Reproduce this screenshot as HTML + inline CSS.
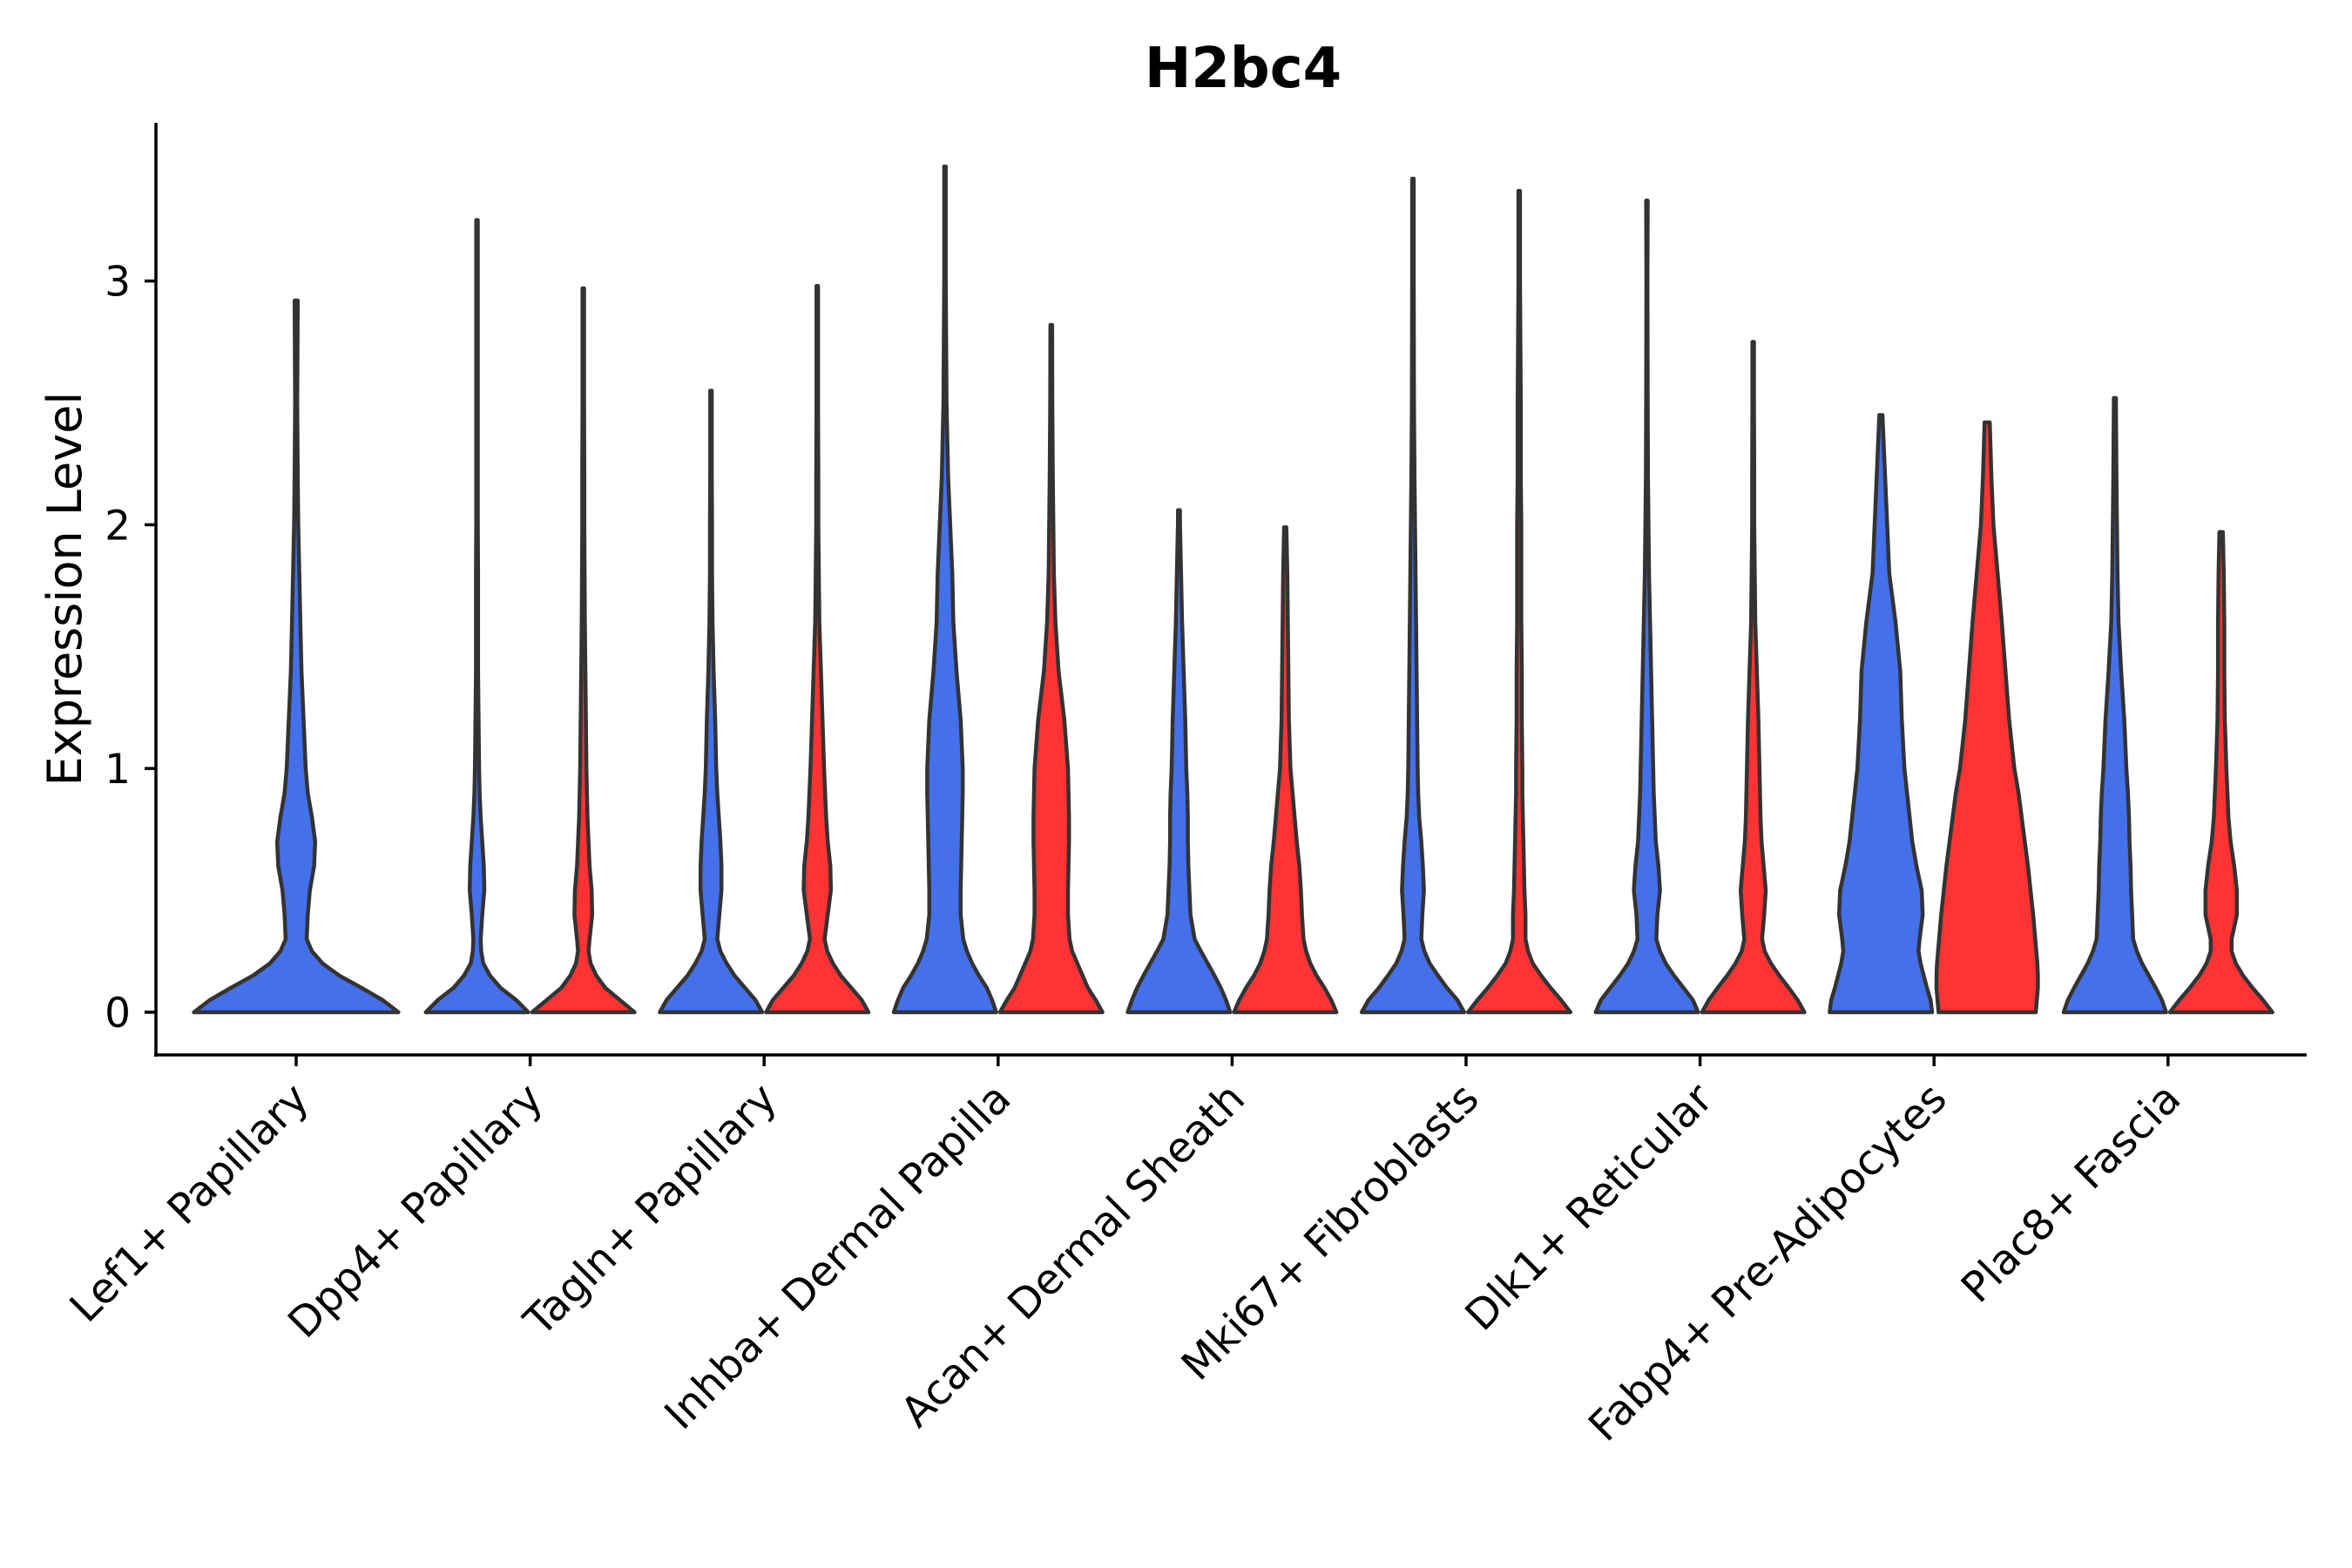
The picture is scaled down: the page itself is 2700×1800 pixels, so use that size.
<!DOCTYPE html>
<html><head><meta charset="utf-8"><style>
html,body{margin:0;padding:0;background:#fff}
svg{display:block}
text{font-family:"DejaVu Sans","Liberation Sans",sans-serif}
</style></head><body>
<svg id="chart" width="2700" height="1800" viewBox="0 0 2700 1800" xmlns="http://www.w3.org/2000/svg">
<rect width="2700" height="1800" fill="#fff"/>
<text x="1427" y="100" text-anchor="middle" font-size="64" font-weight="bold" fill="#000">H2bc4</text>
<text transform="translate(93,676) rotate(-90)" text-anchor="middle" font-size="54" fill="#000">Expression Level</text>
<g id="violins"></g>
<g id="axes"></g>
</svg>
<script>
const categories = ["Lef1+ Papillary","Dpp4+ Papillary","Tagln+ Papillary","Inhba+ Dermal Papilla","Acan+ Dermal Sheath","Mki67+ Fibroblasts","Dlk1+ Reticular","Fabp4+ Pre-Adipocytes","Plac8+ Fascia"];
const yTicks = [0,1,2,3];
const levels = [0,0.05,0.1,0.15,0.2,0.25,0.3,0.4,0.5,0.6,0.7,0.8,0.9,1.0,1.2,1.4,1.6,1.8,2.0,2.2,2.5,3.0,3.5];
const blueMax = [2.92,3.25,2.55,3.47,2.06,3.42,3.33,2.45,2.52];
const redMax = [null,2.97,2.98,2.82,1.99,3.37,2.75,2.42,1.97];
const blueWidths = [
 [0.97,0.82,0.62,0.41,0.25,0.15,0.10,0.11,0.13,0.17,0.18,0.15,0.11,0.09,0.07,0.05,0.04,0.03,0.02,0.015,0.01,0.01,0.01],
 [0.98,0.75,0.45,0.25,0.12,0.08,0.07,0.10,0.14,0.13,0.10,0.07,0.05,0.04,0.03,0.02,0.02,0.02,0.015,0.015,0.015,0.015,0.015],
 [0.98,0.85,0.65,0.45,0.30,0.18,0.12,0.16,0.20,0.20,0.18,0.15,0.12,0.10,0.08,0.05,0.03,0.02,0.02,0.015,0.015,0.015,0.015],
 [0.98,0.90,0.80,0.65,0.52,0.42,0.35,0.30,0.30,0.31,0.32,0.33,0.34,0.34,0.30,0.22,0.16,0.14,0.10,0.06,0.03,0.015,0.015],
 [0.98,0.90,0.80,0.68,0.55,0.42,0.30,0.22,0.20,0.18,0.17,0.17,0.16,0.14,0.12,0.09,0.06,0.04,0.02,0.015,0.015,0.015,0.015],
 [0.98,0.85,0.65,0.48,0.32,0.22,0.16,0.18,0.21,0.19,0.16,0.12,0.10,0.09,0.08,0.07,0.06,0.05,0.04,0.03,0.02,0.015,0.015],
 [0.98,0.88,0.70,0.52,0.36,0.25,0.18,0.20,0.25,0.22,0.17,0.15,0.13,0.12,0.10,0.08,0.06,0.04,0.03,0.02,0.015,0.01,0.01],
 [0.98,0.95,0.88,0.82,0.76,0.72,0.74,0.80,0.78,0.68,0.60,0.55,0.50,0.45,0.40,0.37,0.28,0.16,0.12,0.08,0.02,0.02,0.02],
 [0.98,0.90,0.78,0.65,0.52,0.42,0.35,0.33,0.31,0.30,0.28,0.27,0.25,0.22,0.18,0.12,0.07,0.05,0.04,0.03,0.02,0.02,0.02]
];
const redWidths = [
 null,
 [0.98,0.70,0.42,0.25,0.14,0.10,0.12,0.17,0.16,0.12,0.10,0.08,0.07,0.06,0.05,0.04,0.03,0.025,0.02,0.02,0.015,0.015,0.015],
 [0.98,0.85,0.65,0.45,0.30,0.19,0.14,0.20,0.26,0.25,0.20,0.17,0.15,0.13,0.10,0.07,0.04,0.03,0.02,0.02,0.015,0.015,0.015],
 [0.98,0.85,0.70,0.60,0.50,0.40,0.35,0.32,0.32,0.33,0.34,0.34,0.33,0.32,0.25,0.14,0.08,0.05,0.04,0.03,0.02,0.015,0.015],
 [0.98,0.88,0.75,0.60,0.48,0.40,0.35,0.32,0.30,0.27,0.22,0.18,0.14,0.10,0.07,0.06,0.05,0.04,0.02,0.02,0.02,0.02,0.02],
 [0.98,0.80,0.60,0.42,0.26,0.17,0.12,0.12,0.10,0.09,0.08,0.07,0.06,0.06,0.05,0.05,0.04,0.04,0.04,0.03,0.03,0.015,0.015],
 [0.98,0.85,0.68,0.50,0.34,0.22,0.17,0.21,0.24,0.20,0.16,0.14,0.13,0.12,0.10,0.07,0.04,0.03,0.02,0.02,0.015,0.015,0.015],
 [0.93,0.95,0.97,0.97,0.96,0.94,0.92,0.88,0.83,0.78,0.72,0.66,0.60,0.52,0.42,0.35,0.28,0.20,0.12,0.08,0.04,0.04,0.04],
 [0.98,0.80,0.60,0.42,0.28,0.20,0.20,0.30,0.30,0.25,0.18,0.14,0.12,0.10,0.07,0.06,0.06,0.05,0.03,0.03,0.03,0.03,0.03]
];

const NS = "http://www.w3.org/2000/svg";
const X0 = 340, DX = 268.6, Y0 = 1162, PY = 279.8;
const xScale = i => X0 + DX * i;
const yScale = v => Y0 - PY * v;

function profile(ws, max){
  const pts = [];
  for (let k = 0; k < levels.length; k++){
    if (levels[k] < max) pts.push([levels[k], ws[k]]);
    else {
      const k0 = k - 1;
      const t = (max - levels[k0]) / (levels[k] - levels[k0]);
      pts.push([max, Math.max(0.015, ws[k0] + (ws[k] - ws[k0]) * t)]);
      break;
    }
  }
  return pts;
}
function violinPath(cx, half, ws, max){
  const pts = profile(ws, max);
  let d = "";
  pts.forEach((p, i) => { d += (i ? "L" : "M") + (cx - p[1]*half).toFixed(1) + "," + yScale(p[0]).toFixed(1); });
  for (let i = pts.length - 1; i >= 0; i--) d += "L" + (cx + pts[i][1]*half).toFixed(1) + "," + yScale(pts[i][0]).toFixed(1);
  return d + "Z";
}
const vg = document.getElementById("violins");
categories.forEach((c, i) => {
  const cx = xScale(i);
  if (redWidths[i] === null){
    const p = document.createElementNS(NS, "path");
    p.setAttribute("d", violinPath(cx, 121, blueWidths[i], blueMax[i]));
    p.setAttribute("fill", "#4470ea"); p.setAttribute("stroke", "#333"); p.setAttribute("stroke-width", "4.5"); p.setAttribute("stroke-linejoin", "round");
    
    
    vg.appendChild(p);
  } else {
    const pb = document.createElementNS(NS, "path");
    pb.setAttribute("d", violinPath(cx - 61, 60, blueWidths[i], blueMax[i]));
    pb.setAttribute("fill", "#4470ea"); pb.setAttribute("stroke", "#333"); pb.setAttribute("stroke-width", "4.5"); pb.setAttribute("stroke-linejoin", "round");
    
    
    vg.appendChild(pb);
    const pr = document.createElementNS(NS, "path");
    pr.setAttribute("d", violinPath(cx + 61, 60, redWidths[i], redMax[i]));
    pr.setAttribute("fill", "#ff3333"); pr.setAttribute("stroke", "#333"); pr.setAttribute("stroke-width", "4.5"); pr.setAttribute("stroke-linejoin", "round");
    
    
    vg.appendChild(pr);
  }
});
const ag = document.getElementById("axes");
function line(x1,y1,x2,y2,name){
  const l = document.createElementNS(NS, "line");
  l.setAttribute("x1",x1); l.setAttribute("y1",y1); l.setAttribute("x2",x2); l.setAttribute("y2",y2);
  l.setAttribute("stroke","#000"); l.setAttribute("stroke-width","3.5");
  
  
  ag.appendChild(l);
}
line(179,141,179,1213,"y-axis-line");
line(177,1211,2648,1211,"x-axis-line");
yTicks.forEach(v => {
  line(166, yScale(v), 179, yScale(v), "y-tick");
  const t = document.createElementNS(NS, "text");
  t.setAttribute("x", 150); t.setAttribute("y", yScale(v) + 17);
  t.setAttribute("text-anchor", "end"); t.setAttribute("font-size", "47"); t.setAttribute("fill", "#000");
  t.textContent = v;
  
  
  ag.appendChild(t);
});
categories.forEach((c, i) => {
  const x = xScale(i);
  line(x, 1211, x, 1224, "x-tick");
  const t = document.createElementNS(NS, "text");
  t.setAttribute("transform", "translate(" + (x + 17) + "," + 1264 + ") rotate(-45)");
  t.setAttribute("text-anchor", "end"); t.setAttribute("font-size", "48"); t.setAttribute("fill", "#000");
  t.textContent = c;
  
  
  ag.appendChild(t);
});
</script>
</body></html>
